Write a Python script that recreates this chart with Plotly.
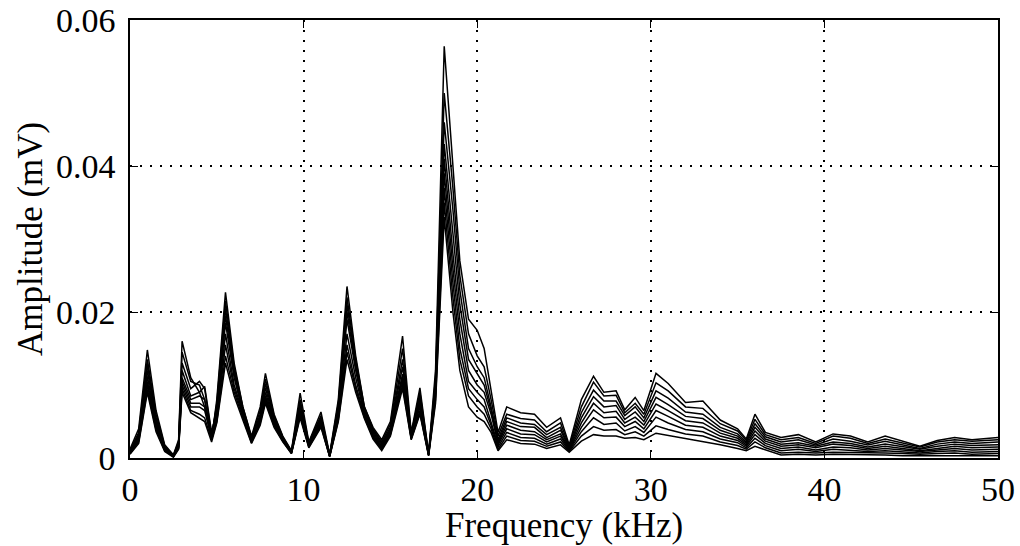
import numpy as np
import plotly.graph_objects as go

# Frequency points (kHz)
freq_khz = [0, 0.5, 1.0, 1.5, 2.0, 2.5, 2.8, 3.0, 3.5, 4.0,
            4.3, 4.7, 5.0, 5.5, 6.0, 6.5, 7.0, 7.5, 7.8, 8.3,
            8.8, 9.3, 9.8, 10.3, 11.0, 11.5, 12.0, 12.5, 13.0, 13.5,
            14.0, 14.5, 15.0, 15.7, 16.2, 16.7, 17.2, 17.6, 18.1, 18.6,
            19.0, 19.5, 20.0, 20.4, 20.8, 21.2, 21.7, 22.5, 23.3, 24.0,
            24.8, 25.3, 26.0, 26.7, 27.3, 28.0, 28.5, 29.1, 29.6, 30.3,
            31.0, 32.0, 33.0, 34.0, 35.0, 35.5, 36.0, 36.6, 37.5, 38.5,
            39.5, 40.5, 41.5, 42.5, 43.5, 44.5, 45.5, 46.5, 47.5, 48.5, 50.0]

# Amplitudes of each measurement, in units of 0.001 mV
amp_1 = [1.2, 4.0, 14.8, 6.5, 1.8, 0.4, 2.5, 16.0, 11.0, 9.0,
         7.0, 2.5, 8.0, 22.7, 13.0, 7.0, 3.0, 7.0, 11.6, 6.0,
         3.0, 1.0, 8.9, 2.2, 6.3, 0.5, 8.0, 23.5, 14.0, 7.0,
         4.2, 2.5, 5.0, 16.7, 3.5, 9.6, 0.6, 12.0, 56.4, 40.0,
         27.0, 19.0, 17.5, 15.0, 9.0, 3.5, 7.0, 6.2, 6.0, 4.2,
         5.5, 1.8, 8.0, 11.2, 9.0, 9.2, 6.6, 8.3, 6.5, 11.6,
         10.2, 7.6, 7.8, 5.2, 4.0, 2.6, 6.0, 3.5, 2.8, 3.2,
         2.2, 3.3, 3.0, 2.2, 3.0, 2.3, 1.6, 2.4, 2.8, 2.5, 2.8]
amp_2 = [1.0, 3.5, 13.5, 6.0, 1.6, 0.4, 2.2, 14.5, 10.5, 10.0,
         8.0, 2.8, 7.5, 21.5, 12.5, 7.0, 2.8, 6.5, 10.8, 5.8,
         2.9, 0.9, 8.0, 2.1, 5.8, 0.4, 7.5, 22.0, 13.5, 7.0,
         4.0, 2.2, 4.6, 15.0, 3.3, 9.0, 0.6, 11.0, 50.0, 37.0,
         25.0, 17.0, 14.0, 12.5, 8.0, 3.0, 6.0, 5.4, 5.2, 3.6,
         4.8, 1.6, 7.0, 10.4, 8.5, 8.6, 6.2, 7.5, 6.0, 10.3,
         9.2, 7.0, 6.8, 4.7, 3.7, 2.4, 5.3, 3.2, 2.5, 2.8,
         2.0, 3.0, 2.7, 2.0, 2.6, 2.0, 1.5, 2.2, 2.5, 2.3, 2.5]
amp_3 = [1.0, 3.2, 12.8, 5.5, 1.5, 0.3, 2.0, 13.0, 9.5, 10.5,
         9.5, 3.2, 7.0, 20.5, 12.0, 6.8, 2.6, 6.0, 10.2, 5.5,
         2.8, 0.9, 7.5, 2.0, 5.5, 0.4, 7.0, 21.0, 13.0, 6.8,
         3.8, 2.0, 4.2, 13.5, 3.1, 8.5, 0.5, 10.5, 46.0, 34.0,
         23.0, 15.0, 12.5, 11.0, 7.0, 2.5, 5.5, 4.8, 4.6, 3.2,
         4.2, 1.4, 6.2, 9.3, 7.8, 7.8, 5.8, 7.0, 5.5, 9.2,
         8.2, 6.3, 6.0, 4.2, 3.3, 2.2, 4.7, 2.9, 2.2, 2.5,
         1.8, 2.6, 2.3, 1.8, 2.3, 1.8, 1.3, 1.9, 2.2, 2.0, 2.2]
amp_4 = [0.9, 3.0, 12.0, 5.2, 1.4, 0.3, 1.8, 12.0, 8.5, 9.0,
         9.8, 3.5, 6.5, 19.5, 11.5, 6.5, 2.5, 5.8, 9.6, 5.2,
         2.7, 0.8, 7.0, 1.9, 5.2, 0.3, 6.5, 20.0, 12.5, 6.5,
         3.6, 1.8, 4.0, 12.5, 3.0, 8.0, 0.5, 10.0, 43.0, 31.0,
         21.0, 13.5, 11.5, 10.0, 6.5, 2.2, 5.0, 4.3, 4.2, 2.8,
         3.8, 1.3, 5.5, 8.4, 7.0, 7.2, 5.3, 6.3, 5.0, 8.3,
         7.3, 5.7, 5.4, 3.8, 3.0, 2.0, 4.2, 2.6, 1.9, 2.1,
         1.6, 2.2, 2.0, 1.5, 1.9, 1.5, 1.2, 1.6, 1.9, 1.7, 1.8]
amp_5 = [0.8, 2.8, 11.2, 4.8, 1.3, 0.3, 1.6, 11.0, 8.0, 8.5,
         8.0, 3.2, 6.0, 18.5, 11.0, 6.2, 2.4, 5.5, 9.0, 5.0,
         2.6, 0.8, 6.5, 1.8, 5.0, 0.3, 6.0, 19.0, 12.0, 6.2,
         3.4, 1.6, 3.8, 11.5, 2.9, 7.5, 0.5, 9.5, 41.0, 28.0,
         19.0, 12.0, 10.0, 9.0, 6.0, 2.0, 4.5, 3.8, 3.6, 2.5,
         3.3, 1.2, 4.8, 7.5, 6.2, 6.4, 4.8, 5.6, 4.5, 7.4,
         6.5, 5.1, 4.8, 3.4, 2.7, 1.8, 3.7, 2.3, 1.6, 1.8,
         1.4, 1.9, 1.7, 1.3, 1.6, 1.3, 1.0, 1.3, 1.6, 1.4, 1.5]
amp_6 = [0.8, 2.6, 10.5, 4.5, 1.2, 0.2, 1.5, 10.5, 7.5, 7.5,
         7.0, 3.0, 5.5, 17.0, 10.0, 6.0, 2.3, 5.2, 8.5, 4.8,
         2.5, 0.7, 6.2, 1.7, 4.8, 0.3, 5.8, 17.0, 11.0, 6.0,
         3.2, 1.4, 3.6, 11.0, 2.8, 7.0, 0.4, 9.0, 39.0, 26.0,
         17.0, 10.5, 9.0, 8.0, 5.0, 1.8, 4.0, 3.3, 3.2, 2.2,
         3.0, 1.1, 4.2, 6.6, 5.5, 5.6, 4.3, 5.0, 4.0, 6.5,
         5.7, 4.5, 4.2, 3.0, 2.4, 1.6, 3.2, 2.0, 1.3, 1.5,
         1.1, 1.5, 1.4, 1.1, 1.3, 1.1, 0.9, 1.1, 1.3, 1.1, 1.2]
amp_7 = [0.7, 2.4, 10.0, 4.2, 1.1, 0.2, 1.4, 10.0, 7.0, 7.0,
         6.5, 2.8, 5.2, 15.5, 9.5, 5.8, 2.2, 5.0, 8.2, 4.6,
         2.4, 0.7, 6.0, 1.6, 4.6, 0.2, 5.5, 15.5, 10.0, 5.8,
         3.0, 1.3, 3.4, 10.5, 2.7, 6.5, 0.4, 8.5, 37.0, 24.0,
         15.0, 9.5, 8.0, 7.0, 4.5, 1.5, 3.5, 2.8, 2.7, 1.9,
         2.6, 1.0, 3.6, 5.5, 4.6, 4.8, 3.7, 4.3, 3.5, 5.6,
         4.8, 3.9, 3.6, 2.6, 2.1, 1.4, 2.7, 1.7, 1.0, 1.2,
         0.9, 1.2, 1.1, 0.9, 1.0, 0.9, 0.7, 0.9, 1.0, 0.8, 0.9]
amp_8 = [0.6, 2.2, 9.4, 3.9, 1.0, 0.2, 1.3, 9.5, 6.5, 6.0,
         5.5, 2.5, 5.0, 14.0, 9.0, 5.5, 2.1, 4.8, 7.8, 4.4,
         2.3, 0.6, 5.8, 1.5, 4.4, 0.2, 5.2, 14.5, 9.5, 5.6,
         2.8, 1.2, 3.2, 10.0, 2.6, 6.2, 0.4, 8.0, 35.0, 22.0,
         13.5, 8.5, 7.0, 6.0, 4.0, 1.2, 3.0, 2.4, 2.3, 1.6,
         2.2, 0.9, 3.0, 4.3, 3.8, 3.9, 3.2, 3.6, 3.0, 4.4,
         3.9, 3.3, 3.0, 2.2, 1.7, 1.2, 2.2, 1.4, 0.7, 0.8,
         0.7, 0.8, 0.8, 0.7, 0.7, 0.6, 0.5, 0.6, 0.7, 0.5, 0.6]
amp_9 = [0.5, 2.0, 9.0, 3.6, 0.9, 0.1, 1.2, 9.0, 6.2, 5.5,
         5.0, 2.2, 4.8, 13.0, 8.5, 5.2, 2.0, 4.5, 7.5, 4.2,
         2.2, 0.6, 5.5, 1.4, 4.2, 0.2, 5.0, 13.5, 9.0, 5.4,
         2.6, 1.0, 3.0, 9.5, 2.5, 6.0, 0.3, 7.5, 33.0, 20.0,
         12.0, 7.0, 5.6, 5.0, 3.5, 1.0, 2.5, 2.0, 1.9, 1.3,
         1.8, 0.8, 2.3, 3.2, 3.0, 3.0, 2.7, 2.8, 2.5, 3.4,
         3.1, 2.7, 2.3, 1.8, 1.3, 1.0, 1.6, 1.1, 0.4, 0.5,
         0.4, 0.5, 0.5, 0.4, 0.4, 0.3, 0.3, 0.3, 0.3, 0.3, 0.3]

x_ticks = [0, 10, 20, 30, 40, 50]
y_ticks = [0, 0.02, 0.04, 0.06]
y_tick_labels = ["0", "0.02", "0.04", "0.06"]
x_title = "Frequency (kHz)"
y_title = "Amplitude (mV)"

series = [amp_1, amp_2, amp_3, amp_4, amp_5, amp_6, amp_7, amp_8, amp_9]

fig = go.Figure()
for i, s in enumerate(series):
    fig.add_trace(go.Scatter(
        x=freq_khz, y=np.array(s) / 1000.0, mode="lines",
        line=dict(color="black", width=1.5), name=f"Measurement {i+1}",
        showlegend=False))

font_family = "Liberation Serif, Times New Roman, serif"
axis_common = dict(
    showgrid=True, gridcolor="black", griddash="1.5px,8.5px", gridwidth=1.5,
    showline=True, linecolor="black", linewidth=1.5, mirror="ticks",
    ticks="inside", ticklen=8, tickcolor="black", tickwidth=1.2,
    zeroline=False, automargin=False, ticklabeloverflow="allow",
    tickfont=dict(family=font_family, size=34, color="black"),
)

fig.update_layout(
    width=1020, height=546,
    margin=dict(l=130, r=22, t=20, b=88),
    paper_bgcolor="white", plot_bgcolor="white",
    font=dict(family=font_family, color="black"),
    xaxis=dict(range=[0, 50], tickvals=x_ticks, ticklabelstandoff=0, **axis_common),
    yaxis=dict(range=[0, 0.06], tickvals=y_ticks, ticktext=y_tick_labels,
               ticklabelstandoff=6, **axis_common),
    annotations=[
        dict(text=x_title, xref="paper", yref="paper", x=0.5, y=0,
             yshift=-67, yanchor="middle", showarrow=False,
             font=dict(family=font_family, size=35, color="black")),
        dict(text=y_title, xref="paper", yref="paper", x=0, y=0.5,
             xshift=-100, xanchor="center", yanchor="middle", textangle=-90,
             showarrow=False, font=dict(family=font_family, size=35, color="black")),
    ],
)

# remove the default page margin so the figure fills the window exactly
fig.write_html("out.html", config={"displayModeBar": False},
               post_script="document.body.style.margin='0';")
